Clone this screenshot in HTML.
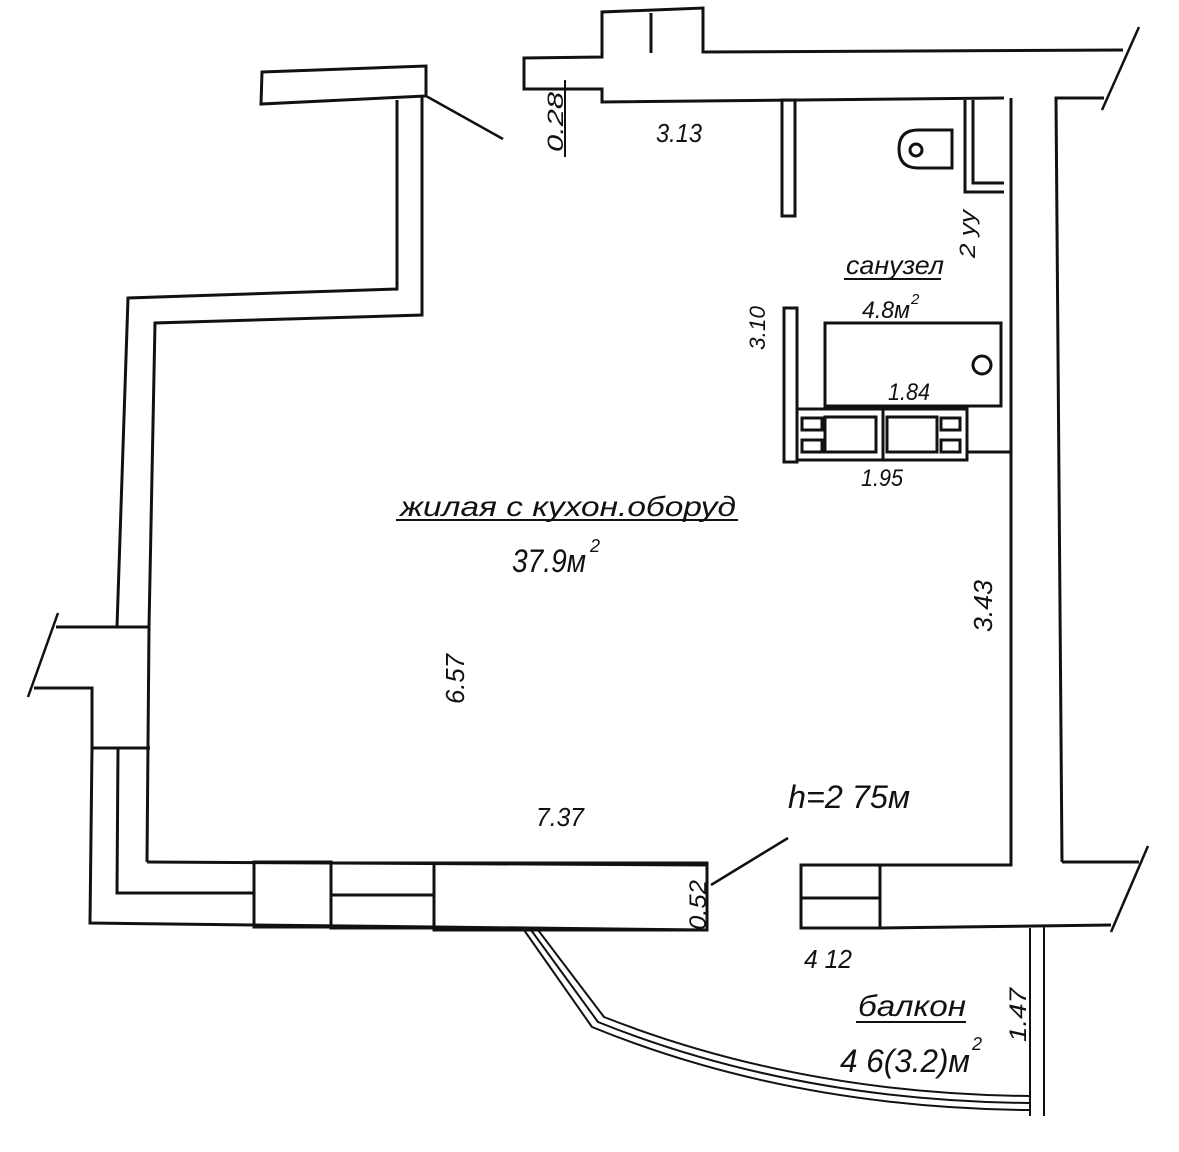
<!DOCTYPE html>
<html><head><meta charset="utf-8"><style>
html,body{margin:0;padding:0;background:#fff;width:1179px;height:1152px;overflow:hidden}
svg{display:block}
text{font-family:"Liberation Sans","DejaVu Sans",sans-serif;font-style:italic;fill:#111}
</style></head><body>
<svg width="1179" height="1152" viewBox="0 0 1179 1152" xmlns="http://www.w3.org/2000/svg">
<g fill="none" stroke="#111" stroke-width="3" stroke-linejoin="miter">
<polygon points="262,72 426,66 426,96 261,104"/>
<line x1="426" y1="96" x2="503" y2="139" stroke-width="2.5"/>
<polyline points="397,100 397,289 128,298 117,627"/>
<polyline points="422,96 422,315 155,323 149,627 147,862"/>
<polyline points="149,627 56,627"/>
<line x1="58" y1="613" x2="28" y2="697" stroke-width="2.5"/>
<polyline points="34,688 92,688 92,748 150,748"/>
<polyline points="92,748 90,923 254,925"/>
<polyline points="118,748 117,893 254,893"/>
<polyline points="147,862 707,865"/>
<polyline points="254,925 707,930"/>
<rect x="254" y="862" width="77" height="65"/>
<rect x="331" y="863" width="103" height="65"/>
<line x1="331" y1="895" x2="434" y2="895"/>
<rect x="434" y="863" width="273" height="67"/>
<line x1="711" y1="885" x2="788" y2="838" stroke-width="2.5"/>
<rect x="801" y="865" width="79" height="63"/>
<line x1="801" y1="898" x2="880" y2="898"/>
<polyline points="880,865 1011,865 1011,98"/>
<polyline points="880,928 1111,925"/>
<polyline points="1062,862 1139,862"/>
<line x1="1148" y1="846" x2="1111" y2="932" stroke-width="2.5"/>
<polyline points="1062,862 1056,98 1104,98"/>
<line x1="1139" y1="27" x2="1102" y2="110" stroke-width="2.5"/>
<polyline points="1123,50 703,52 703,8 602,12 602,57 524,58 524,89 602,89 602,102 1004,98"/>
<line x1="651" y1="13" x2="651" y2="53"/>
<line x1="565" y1="80" x2="565" y2="157" stroke-width="2"/>
<rect x="782" y="100" width="13" height="116"/>
<rect x="784" y="308" width="13" height="154"/>
<path d="M952,130 L918,130 Q899,130 899,149 Q899,168 918,168 L952,168 Z"/>
<circle cx="916" cy="150" r="6"/>
<polyline points="965,100 965,192 1004,192"/>
<polyline points="973,100 973,183 1004,183"/>
<rect x="825" y="323" width="176" height="83"/>
<circle cx="982" cy="365" r="9"/>
<rect x="797" y="409" width="170" height="51"/>
<rect x="802" y="418" width="20" height="12"/>
<rect x="802" y="440" width="20" height="12"/>
<rect x="825" y="417" width="51" height="35"/>
<line x1="883" y1="409" x2="883" y2="460"/>
<rect x="887" y="417" width="50" height="35"/>
<rect x="941" y="418" width="19" height="12"/>
<rect x="941" y="440" width="19" height="12"/>
<line x1="967" y1="452" x2="1011" y2="452"/>
<line x1="1030" y1="928" x2="1030" y2="1116" stroke-width="2"/>
<line x1="1044" y1="926" x2="1044" y2="1116" stroke-width="2"/>
<g stroke-width="2">
<path d="M524,930 L592,1027 Q790,1108 1030,1110"/>
<path d="M531,930 L598,1022 Q795,1101 1030,1103"/>
<path d="M538,930 L604,1017 Q800,1094 1030,1096"/>
</g>
</g>
<text x="0" y="0" font-size="22" transform="translate(563,152) rotate(-90)" textLength="60" lengthAdjust="spacingAndGlyphs">0.28</text>
<text x="656" y="142" font-size="26" textLength="46" lengthAdjust="spacingAndGlyphs">3.13</text>
<text x="0" y="0" font-size="22" transform="translate(975,258) rotate(-90)" textLength="48" lengthAdjust="spacingAndGlyphs">2 уу</text>
<text x="846" y="274" font-size="26" textLength="98" lengthAdjust="spacingAndGlyphs">санузел</text>
<line x1="844" y1="279" x2="941" y2="279" stroke="#111" stroke-width="2"/>
<text x="862" y="318" font-size="24" textLength="48" lengthAdjust="spacingAndGlyphs">4.8м</text>
<text x="911" y="304" font-size="15">2</text>
<text x="0" y="0" font-size="22" transform="translate(765,350) rotate(-90)" textLength="44" lengthAdjust="spacingAndGlyphs">3.10</text>
<text x="888" y="400" font-size="24" textLength="42" lengthAdjust="spacingAndGlyphs">1.84</text>
<text x="861" y="486" font-size="24" textLength="42" lengthAdjust="spacingAndGlyphs">1.95</text>
<text x="400" y="516" font-size="28" textLength="336" lengthAdjust="spacingAndGlyphs">жилая с кухон.оборуд</text>
<line x1="396" y1="520" x2="738" y2="520" stroke="#111" stroke-width="2"/>
<text x="512" y="572" font-size="32" textLength="74" lengthAdjust="spacingAndGlyphs">37.9м</text>
<text x="590" y="552" font-size="18">2</text>
<text x="0" y="0" font-size="26" transform="translate(464,704) rotate(-90)" textLength="50" lengthAdjust="spacingAndGlyphs">6.57</text>
<text x="0" y="0" font-size="26" transform="translate(992,632) rotate(-90)" textLength="52" lengthAdjust="spacingAndGlyphs">3.43</text>
<text x="536" y="826" font-size="26" textLength="48" lengthAdjust="spacingAndGlyphs">7.37</text>
<text x="788" y="808" font-size="32" textLength="122" lengthAdjust="spacingAndGlyphs">h=2 75м</text>
<text x="0" y="0" font-size="24" transform="translate(706,930) rotate(-90)" textLength="50" lengthAdjust="spacingAndGlyphs">0.52</text>
<text x="804" y="968" font-size="26" textLength="48" lengthAdjust="spacingAndGlyphs">4 12</text>
<text x="858" y="1016" font-size="30" textLength="108" lengthAdjust="spacingAndGlyphs">балкон</text>
<line x1="856" y1="1022" x2="966" y2="1022" stroke="#111" stroke-width="2"/>
<text x="840" y="1072" font-size="32" textLength="130" lengthAdjust="spacingAndGlyphs">4 6(3.2)м</text>
<text x="972" y="1050" font-size="18">2</text>
<text x="0" y="0" font-size="24" transform="translate(1026,1042) rotate(-90)" textLength="54" lengthAdjust="spacingAndGlyphs">1.47</text>
</svg>
</body></html>
